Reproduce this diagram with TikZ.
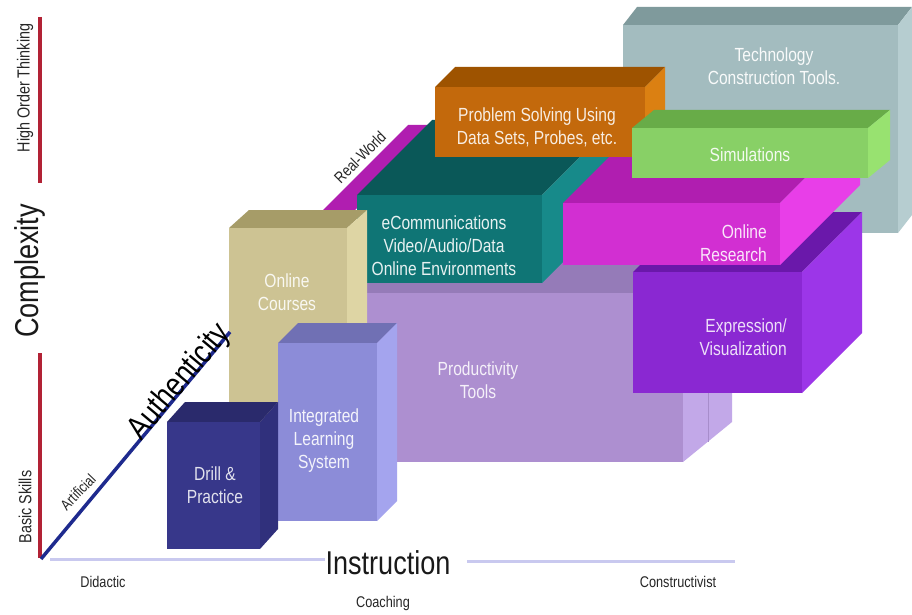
\documentclass[tikz,border=0pt]{standalone}
\usepackage{fontspec}
\setmainfont{Liberation Sans}[FakeStretch=0.82]
\definecolor{grayF}{HTML}{A3BCBF}
\definecolor{grayT}{HTML}{7F9A9C}
\definecolor{grayS}{HTML}{B6CDD0}
\definecolor{prodF}{HTML}{AD8FD0}
\definecolor{prodT}{HTML}{957BB8}
\definecolor{prodS}{HTML}{C2A8E8}
\definecolor{exprF}{HTML}{8A28D2}
\definecolor{exprT}{HTML}{6A18AA}
\definecolor{exprS}{HTML}{9C36E8}
\definecolor{magF}{HTML}{D22FD2}
\definecolor{magT}{HTML}{B01EB0}
\definecolor{magS}{HTML}{E83EE8}
\definecolor{tealF}{HTML}{0F7575}
\definecolor{tealT}{HTML}{0A5858}
\definecolor{tealS}{HTML}{178A8A}
\definecolor{orF}{HTML}{C3690C}
\definecolor{orT}{HTML}{9E5300}
\definecolor{orS}{HTML}{DB8012}
\definecolor{grnF}{HTML}{88D066}
\definecolor{grnT}{HTML}{68AC48}
\definecolor{grnS}{HTML}{98E270}
\definecolor{crsF}{HTML}{CDC393}
\definecolor{crsT}{HTML}{A69C68}
\definecolor{crsS}{HTML}{DED5A4}
\definecolor{ilsF}{HTML}{8C8CD8}
\definecolor{ilsT}{HTML}{7070B4}
\definecolor{ilsS}{HTML}{A4A4EE}
\definecolor{drlF}{HTML}{37378A}
\definecolor{drlT}{HTML}{2A2A6C}
\definecolor{drlS}{HTML}{30307C}
\definecolor{axred}{HTML}{B22235}
\definecolor{axblue}{HTML}{1E2A8E}
\definecolor{axlav}{HTML}{C9C9EF}
% #1 colour prefix, #2 x1, #3 y1 (top), #4 x2, #5 y2 (bottom), #6 dx, #7 dy (upwards)
\newcommand{\cuboid}[7]{%
  \fill[#1T] (#2,#3) -- (#4,#3) -- ({#4+#6},{#3-#7}) -- ({#2+#6},{#3-#7}) -- cycle;
  \fill[#1S] (#4,#3) -- ({#4+#6},{#3-#7}) -- ({#4+#6},{#5-#7}) -- (#4,#5) -- cycle;
  \fill[#1F] (#2,#3) rectangle (#4,#5);
}
\begin{document}
\begin{tikzpicture}[x=1pt,y=-1pt,
  boxtxt/.style={font=\fontsize{19}{23}\selectfont, align=center, inner sep=0pt},
  smalltxt/.style={font=\fontsize{15.5}{18}\selectfont, inner sep=0pt, text=black!85},
  sidetxt/.style={font=\fontsize{17.5}{20}\selectfont, inner sep=0pt, rotate=90, text=black!85},
  bigtxt/.style={font=\fontsize{33}{36}\selectfont, inner sep=0pt, text=black!90},
  redaxis/.style={axred, line width=3.5pt},
  blueaxis/.style={axblue, line width=3.5pt},
  lavaxis/.style={axlav, line width=3pt}]
\useasboundingbox (0,0) rectangle (912,615);
\fill[white] (0,0) rectangle (912,615);

% ---- boxes, back to front ----
\cuboid{gray}{623}{25}{898}{233}{14}{18}
\cuboid{prod}{350}{293}{683}{462}{49}{40}
\coordinate (pm1) at (708,273);
\coordinate (pm2) at (708,442);
\draw[prodT!60!prodS, line width=1pt] (pm1) -- (pm2);
\cuboid{expr}{633}{272}{802}{393}{60}{60}
\fill[magT] (318,215) -- (408,125) -- (440,125) -- (350,215) -- cycle;
\cuboid{teal}{357}{195}{542}{283}{75}{75}
\cuboid{mag}{563}{203}{780}{265}{80}{80}
\cuboid{or}{435}{87}{645}{157}{20}{20}
\cuboid{grn}{632}{128}{868}{178}{22}{18}
\cuboid{crs}{229}{228}{347}{430}{20}{18}
\cuboid{ils}{278}{343}{377}{521}{20}{20}
\cuboid{drl}{167}{422}{260}{549}{18}{20}

% ---- box labels ----
\node[boxtxt, text=white!92!grayF] (tech) at (774,66) {Technology\\Construction Tools.};
\node[boxtxt, text=white!90!grnF] (sim) at (750,155) {Simulations};
\node[boxtxt, text=white!88!orF] (prob) at (537,127) {Problem Solving Using\\Data Sets, Probes, etc.};
\node[boxtxt, text=white!90!tealF] (ecom) at (444,246) {eCommunications\\Video/Audio/Data\\Online Environments};
\node[boxtxt, text=white!88!magF, align=right, anchor=east] (ores) at (767,243) {Online\\Research};
\node[boxtxt, text=white!85!exprF, align=right, anchor=east] (expr) at (787,337) {Expression/\\Visualization};
\node[boxtxt, text=white!88!prodF] (prod) at (478,380) {Productivity\\Tools};
\node[boxtxt, text=white!88!crsF] (crs) at (287,292) {Online\\Courses};
\node[boxtxt, text=white!90!ilsF] (ils) at (324,441) {Integrated\\Learning\\System};
\node[boxtxt, text=white!85!drlF] (drl) at (215,485) {Drill \&\\Practice};

% ---- axes ----
\coordinate (rA) at (40,17);
\coordinate (rB) at (40,183);
\coordinate (rC) at (40,353);
\coordinate (rD) at (40,558);
\draw[redaxis] (rA) -- (rB);
\draw[redaxis] (rC) -- (rD);
\coordinate (bA) at (41,559);
\coordinate (bB) at (230,332);
\draw[blueaxis] (bA) -- (bB);
\coordinate (lA) at (50,559);
\coordinate (lB) at (325,559);
\coordinate (lC) at (467,561);
\coordinate (lD) at (735,561);
\draw[lavaxis] (lA) -- (lB);
\draw[lavaxis] (lC) -- (lD);

% ---- axis labels ----
\node[sidetxt] (hot) at (25,88) {High Order Thinking};
\node[bigtxt, rotate=90] (cplx) at (30,271) {Complexity};
\node[sidetxt] (bsk) at (25,507) {Basic Skills};
\node[font=\fontsize{15}{18}\selectfont, inner sep=0pt, rotate=46, text=black!85] (art) at (78,492) {Artificial};
\node[font=\fontsize{33}{36}\selectfont, inner sep=0pt, rotate=50, text=black] (auth) at (180,382) {Authenticity};
\node[font=\fontsize{16}{18}\selectfont, inner sep=0pt, rotate=45, text=black!85] (rw) at (360,157) {Real-World};
\node[smalltxt] (did) at (103,582) {Didactic};
\node[bigtxt] (instr) at (388,563) {Instruction};
\node[smalltxt] (cons) at (678,582) {Constructivist};
\node[smalltxt] (coach) at (383,603) {Coaching};
\end{tikzpicture}
\end{document}
